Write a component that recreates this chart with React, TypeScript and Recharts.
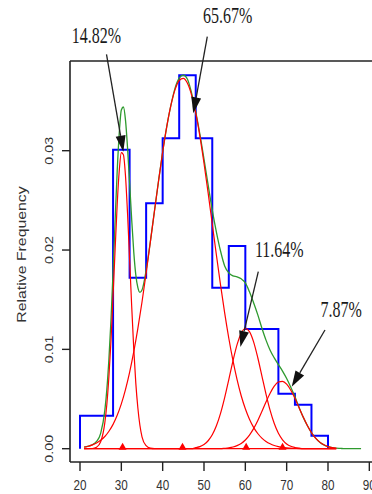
import { ComposedChart, Line, Scatter, XAxis, YAxis, ReferenceLine, ReferenceDot } from "recharts"

// histogram: bin edges (width 4) and relative frequency per bin
const binEdges = [20, 24, 28, 32, 36, 40, 44, 48, 52, 56, 60, 64, 68, 72, 76, 80]
const binFreq = [0.00332, 0.00332, 0.0301, 0.0172, 0.0247, 0.03125, 0.0376, 0.03125, 0.0162, 0.0204, 0.01205, 0.01205, 0.00554, 0.00443, 0.00131]

// fitted mixture density (green)
const mixture: [number, number][] = [
  [21, 0.00016], [22, 0.00025], [23, 0.0004], [24, 0.00073], [25, 0.00155], [26, 0.00383], [26.5, 0.006],
  [27, 0.00906], [27.5, 0.013], [28, 0.01785], [28.5, 0.023], [29, 0.02796], [29.5, 0.0318], [30, 0.0341],
  [30.5, 0.0344], [31, 0.0331], [31.5, 0.0303], [32, 0.02678], [32.5, 0.0231], [33, 0.01984], [33.5, 0.0175],
  [34, 0.01621], [34.5, 0.01574], [35, 0.01597], [36, 0.01797], [37, 0.0208], [38, 0.02388], [39, 0.02695],
  [40, 0.02987], [41, 0.03245], [42, 0.03458], [43, 0.0363], [44, 0.0373], [45, 0.0376], [46, 0.0372],
  [47, 0.0358], [48, 0.0339], [49, 0.03168], [50, 0.02916], [51, 0.02655], [52, 0.02402], [53, 0.02181],
  [54, 0.0199], [55, 0.0184], [56, 0.0177], [57, 0.0174], [58, 0.0173], [59, 0.0171], [60, 0.0167],
  [61, 0.0158], [62, 0.0147], [63, 0.0135], [64, 0.01215], [65, 0.01093], [66, 0.00992], [67, 0.00914],
  [68, 0.00847], [69, 0.00781], [70, 0.00706], [71, 0.00618], [72, 0.00522], [73, 0.00417], [74, 0.00318],
  [75, 0.00233], [76, 0.00161], [77, 0.00106], [78, 0.00066], [79, 0.00039], [80, 0.00021], [81, 0.00011],
  [82, 0.00006], [83, 0.00003], [84, 0], [88, 0],
]

// weighted components (red)
const comp1: [number, number][] = [
  [21, 0], [23, 0.00002], [24, 0.00015], [25, 0.0007], [26, 0.0026], [26.5, 0.0045], [27, 0.0073],
  [27.5, 0.0109], [28, 0.0154], [28.5, 0.0201], [29, 0.0246], [29.5, 0.028], [30, 0.0298], [30.5, 0.0296],
  [31, 0.0275], [31.5, 0.0237], [32, 0.0191], [32.5, 0.0144], [33, 0.0101], [33.5, 0.0066], [34, 0.0041],
  [35, 0.0012], [36, 0.0003], [37, 0.00005], [38, 0], [82, 0],
]
const comp2: [number, number][] = [
  [21, 0.00016], [22, 0.00025], [23, 0.00038], [24, 0.00058], [25, 0.00085], [26, 0.00123], [27, 0.00176],
  [28, 0.00245], [29, 0.00336], [30, 0.00451], [31, 0.00594], [32, 0.00768], [33, 0.00974], [34, 0.01211],
  [35, 0.01477], [36, 0.01767], [37, 0.02074], [38, 0.02388], [39, 0.02695], [40, 0.02987], [41, 0.03245],
  [42, 0.03458], [43, 0.03615], [44, 0.03707], [45, 0.03729], [46, 0.03679], [47, 0.0356], [48, 0.0338],
  [49, 0.03147], [50, 0.02874], [51, 0.02575], [52, 0.02262], [53, 0.0195], [54, 0.01649], [55, 0.01367],
  [56, 0.01112], [57, 0.00888], [58, 0.00695], [59, 0.00533], [60, 0.00402], [61, 0.00297], [62, 0.00215],
  [63, 0.00153], [64, 0.00107], [65, 0.00073], [66, 0.00049], [67, 0.00032], [68, 0.00021], [69, 0.00013],
  [70, 0.00008], [72, 0.00003], [74, 0], [82, 0],
]
const comp3: [number, number][] = [
  [21, 0], [47, 0], [48, 0.0001], [49, 0.00021], [50, 0.00042], [51, 0.0008], [52, 0.0014], [53, 0.00231],
  [54, 0.00356], [55, 0.00515], [56, 0.00696], [57, 0.00882], [58, 0.01047], [59, 0.01163], [60, 0.0121],
  [61, 0.01178], [62, 0.01075], [63, 0.00918], [64, 0.00734], [65, 0.0055], [66, 0.00385], [67, 0.00253],
  [68, 0.00155], [69, 0.0009], [70, 0.00048], [71, 0.00024], [72, 0.00012], [73, 0.00005], [74, 0], [82, 0],
]
const comp4: [number, number][] = [
  [21, 0], [54, 0], [55, 0.00004], [56, 0.00009], [57, 0.00017], [58, 0.00031], [59, 0.00053], [60, 0.00088],
  [61, 0.00137], [62, 0.00202], [63, 0.00282], [64, 0.00374], [65, 0.0047], [66, 0.00558], [67, 0.00629],
  [68, 0.00671], [69, 0.00678], [70, 0.0065], [71, 0.00589], [72, 0.00507], [73, 0.00412], [74, 0.00318],
  [75, 0.00233], [76, 0.00161], [77, 0.00106], [78, 0.00066], [79, 0.00039], [80, 0.00021], [81, 0.00011],
  [82, 0.00006],
]

const compMeans = [30.3, 44.8, 60.2, 69.0]
const compShares = ["14.82%", "65.67%", "11.64%", "7.87%"]

const xTicks = [20, 30, 40, 50, 60, 70, 80, 90]
const yTicks = [0, 0.01, 0.02, 0.03]
const xDomain = [17.58, 92.34]
const yDomain = [-0.001339, 0.03903]

// share labels (left/baseline) and arrows, in axis units
const notes = [
  { text: compShares[0], at: [17.99, 0.04086], from: [26.41, 0.0397], to: [30.48, 0.0299] },
  { text: compShares[1], at: [49.75, 0.04287], from: [50.8, 0.04148], to: [47.41, 0.03377] },
  { text: compShares[2], at: [62.32, 0.01931], from: [63.14, 0.01782], to: [58.8, 0.01024] },
  { text: compShares[3], at: [78.21, 0.01326], from: [79.27, 0.01195], to: [71.22, 0.00624] },
]

const toPoints = (arr: [number, number][]) => arr.map(([x, y]) => ({ x, y }))

const histData = [
  { x: binEdges[0], y: 0 },
  ...binFreq.map((f, i) => ({ x: binEdges[i], y: f })),
  { x: binEdges[binEdges.length - 1], y: 0 },
]
const meanData = compMeans.map((x) => ({ x, y: 0 }))
const components = [comp1, comp2, comp3, comp4]

const SANS = "'Liberation Sans', Arial, sans-serif"
const SERIF = "'Liberation Serif', 'Times New Roman', serif"
const AXIS = "#222"

const XTick = (props: any) => {
  const { x, y, payload } = props
  return (
    <text transform={`translate(${x},${y + 17}) scale(1,1.3)`} textAnchor="middle"
      fontSize={11.7} fontFamily={SANS} fill="#333">
      {payload.value}
    </text>
  )
}

const YTick = (props: any) => {
  const { x, y, payload } = props
  return (
    <text transform={`translate(${x - 7},${y}) rotate(-90) scale(1.28,1)`} textAnchor="middle"
      fontSize={11.2} fontFamily={SANS} fill="#333">
      {Number(payload.value).toFixed(2)}
    </text>
  )
}

const YTitle = (props: any) => {
  const vb = props.viewBox ?? { x: 0, y: 61, width: 70, height: 401 }
  return (
    <text transform={`translate(${vb.x + 26},${vb.y + vb.height / 2 - 7}) rotate(-90) scale(1.3,1)`}
      textAnchor="middle" fontSize={12.2} fontFamily={SANS} fill="#333">
      Relative Frequency
    </text>
  )
}

const Arrow = (p: any) => {
  const { x1, y1, x2, y2 } = p
  const dx = x2 - x1
  const dy = y2 - y1
  const len = Math.hypot(dx, dy) || 1
  const ux = dx / len
  const uy = dy / len
  const hl = 16
  const hw = 5
  const bx = x2 - ux * hl
  const by = y2 - uy * hl
  return (
    <g>
      <line x1={x1} y1={y1} x2={bx} y2={by} stroke="#222" strokeWidth={1.3} />
      <polygon points={`${x2},${y2} ${bx - uy * hw},${by + ux * hw} ${bx + uy * hw},${by - ux * hw}`} fill="#111" />
    </g>
  )
}

const Triangle = (p: any) => {
  const { cx, cy } = p
  return <polygon points={`${cx - 4},${cy + 1} ${cx + 4},${cy + 1} ${cx},${cy - 6}`} fill="#ff0000" />
}

const App = () => {
  return (
    <div style={{ position: "absolute", left: 0, top: 0, width: 372, height: 494, overflow: "hidden", background: "#fff" }}>
      <ComposedChart width={400} height={494} margin={{ top: 61, right: 21, bottom: 0, left: 0 }}>
        <XAxis
          dataKey="x"
          type="number"
          domain={xDomain}
          allowDataOverflow
          ticks={xTicks}
          interval={0}
          height={32}
          tickSize={9}
          axisLine={{ stroke: AXIS, strokeWidth: 1.6 }}
          tickLine={{ stroke: AXIS, strokeWidth: 1.4 }}
          tick={<XTick />}
        />
        <YAxis
          dataKey="y"
          type="number"
          domain={yDomain}
          allowDataOverflow
          ticks={yTicks}
          interval={0}
          width={70}
          tickSize={8}
          axisLine={{ stroke: AXIS, strokeWidth: 1.6 }}
          tickLine={{ stroke: AXIS, strokeWidth: 1.4 }}
          tick={<YTick />}
          label={(p: any) => <YTitle {...p} />}
        />

        {/* top edge of the plot frame */}
        <ReferenceLine y={yDomain[1]} ifOverflow="visible" stroke={AXIS} strokeWidth={1.6} />

        <Line data={histData} dataKey="y" type="stepAfter" stroke="#0000ff" strokeWidth={2}
          dot={false} activeDot={false} isAnimationActive={false} />
        <Line data={toPoints(mixture)} dataKey="y" type="monotone" stroke="#2e9a2e" strokeWidth={1.3}
          dot={false} activeDot={false} isAnimationActive={false} />
        {components.map((c, i) => (
          <Line key={i} data={toPoints(c)} dataKey="y" type="monotone" stroke="#ff0000" strokeWidth={1.2}
            dot={false} activeDot={false} isAnimationActive={false} />
        ))}
        <Scatter data={meanData} dataKey="y" shape={<Triangle />} isAnimationActive={false} />

        {notes.map((n, i) => (
          <ReferenceLine key={`a${i}`} ifOverflow="visible"
            segment={[{ x: n.from[0], y: n.from[1] }, { x: n.to[0], y: n.to[1] }]}
            shape={(p: any) => <Arrow {...p} />} />
        ))}
        {notes.map((n, i) => (
          <ReferenceDot key={`t${i}`} x={n.at[0]} y={n.at[1]} ifOverflow="visible"
            shape={(p: any) => (
              <text transform={`translate(${p.cx},${p.cy}) scale(1,1.4)`} fontSize={16}
                fontFamily={SERIF} fill="#1a1a1a">
                {n.text}
              </text>
            )} />
        ))}
      </ComposedChart>
    </div>
  )
}

export default App
